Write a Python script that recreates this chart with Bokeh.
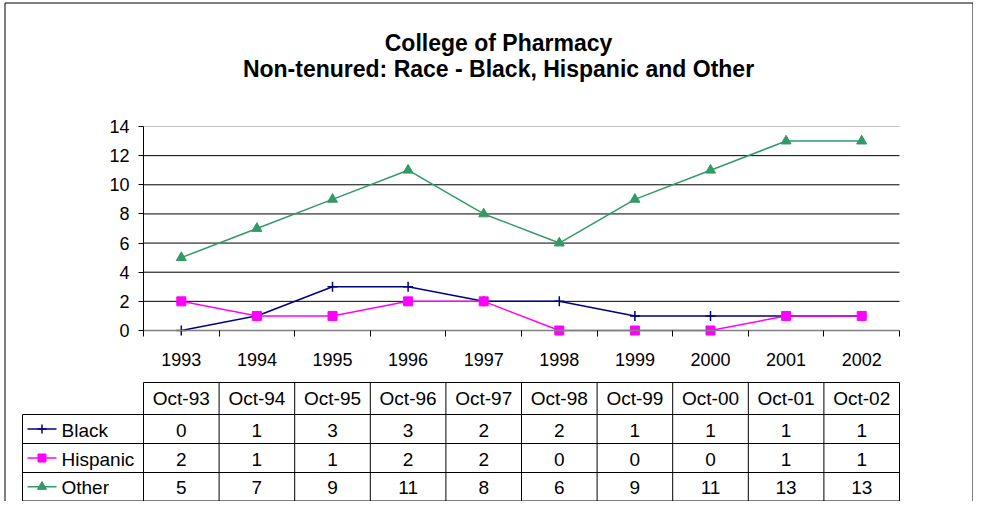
from bokeh.plotting import figure
from bokeh.models import Range1d, LinearAxis, FixedTicker
from bokeh.core.properties import value
from bokeh.embed import file_html
from bokeh.resources import INLINE

# ---------------- data ----------------
title_lines = ["College of Pharmacy", "Non-tenured: Race - Black, Hispanic and Other"]
years = ["1993", "1994", "1995", "1996", "1997", "1998", "1999", "2000", "2001", "2002"]
months = ["Oct-93", "Oct-94", "Oct-95", "Oct-96", "Oct-97", "Oct-98", "Oct-99", "Oct-00", "Oct-01", "Oct-02"]
series_names = ["Black", "Hispanic", "Other"]
black = [0, 1, 3, 3, 2, 2, 1, 1, 1, 1]
hispanic = [2, 1, 1, 2, 2, 0, 0, 0, 1, 1]
other = [5, 7, 9, 11, 8, 6, 9, 11, 13, 13]
y_ticks = [0, 2, 4, 6, 8, 10, 12, 14]

# ---------------- layout constants (pixels of the reference picture) ----------------
W, H = 973, 501
PLOT_L, PLOT_R = 143, 899    # plot area left / right
PLOT_T, PLOT_B = 126, 330    # value 14 / value 0
NCAT = len(years)
XPX = (PLOT_R - PLOT_L) / NCAT
YPX = (PLOT_B - PLOT_T) / (y_ticks[-1] - y_ticks[0])


def rx(x):
    return (x - PLOT_L) / XPX


def ry(y):
    return (PLOT_B - y) / YPX


FONT = value("Liberation Sans")
COL_BLACK = "#000080"
COL_HISP = "#FF00FF"
COL_OTHER = "#339966"

p = figure(width=W, height=H, output_backend="svg", toolbar_location=None,
           x_range=Range1d(rx(0), rx(W)), y_range=Range1d(ry(H), ry(0)),
           x_axis_type=None, y_axis_type=None, min_border=0,
           outline_line_color=None, background_fill_color="white",
           border_fill_color="white")

centers = [i + 0.5 for i in range(NCAT)]
edges = list(range(NCAT + 1))

# ---------------- title ----------------
p.text(x=[rx(498)] * 2, y=[ry(42), ry(68)], text=title_lines,
       text_font=FONT, text_font_style="bold", text_font_size="23px",
       text_align="center", text_baseline="middle", text_color="black")

# ---------------- gridlines ----------------
grid_vals = y_ticks[1:]
grid_cols = ["#c0c0c0" if v == y_ticks[-1] else "#000000" for v in grid_vals]
p.segment(x0=[0] * len(grid_vals), x1=[NCAT] * len(grid_vals), y0=grid_vals, y1=grid_vals,
          line_color=grid_cols, line_width=1)

# ---------------- axes ----------------
yaxis = LinearAxis(fixed_location=0, bounds=(y_ticks[0], y_ticks[-1]),
                   ticker=FixedTicker(ticks=y_ticks),
                   axis_line_color="#000000", axis_line_width=1,
                   major_tick_out=5, major_tick_in=0, minor_tick_out=0, minor_tick_in=0,
                   major_tick_line_color="#000000",
                   major_label_standoff=9, major_label_text_font="Liberation Sans",
                   major_label_text_font_size="18px", major_label_text_color="black")
p.add_layout(yaxis, "left")

xaxis = LinearAxis(fixed_location=0, bounds=(0, NCAT),
                   ticker=FixedTicker(ticks=centers, minor_ticks=edges),
                   major_label_overrides={c: yr for c, yr in zip(centers, years)},
                   axis_line_color="#808080", axis_line_width=1.5,
                   major_tick_out=0, major_tick_in=0,
                   minor_tick_out=6, minor_tick_in=0, minor_tick_line_color="#000000",
                   major_label_standoff=16, major_label_text_font="Liberation Sans",
                   major_label_text_font_size="18px", major_label_text_color="black")
p.add_layout(xaxis, "below")

# ---------------- series ----------------
p.line(centers, other, line_color=COL_OTHER, line_width=1.5)
p.scatter(centers, other, marker="triangle", size=10, fill_color=COL_OTHER, line_color=COL_OTHER)
p.line(centers, black, line_color=COL_BLACK, line_width=1.5)
p.scatter(centers, black, marker="cross", size=10, line_color=COL_BLACK, line_width=1.5)
p.line(centers, hispanic, line_color=COL_HISP, line_width=1.5)
p.scatter(centers, hispanic, marker="square", size=9, fill_color=COL_HISP, line_color=COL_HISP)

# ---------------- data table ----------------
row_edges = [382, 414, 443, 472, 500.5]
LEG_L = 22
hx0 = [0] + [rx(LEG_L)] * 4
hy = [ry(v) for v in row_edges]
p.segment(x0=hx0, x1=[NCAT] * 5, y0=hy, y1=hy, line_color="black", line_width=1)
vx = [rx(LEG_L)] + edges
vy0 = [ry(row_edges[1])] + [ry(row_edges[0])] * len(edges)
p.segment(x0=vx, x1=vx, y0=vy0, y1=[ry(row_edges[-1])] * len(vx), line_color="black", line_width=1)

row_mid = [(row_edges[i] + row_edges[i + 1]) / 2 + 1 for i in range(4)]
row_mid[0] -= 1.5
p.text(x=centers, y=[ry(row_mid[0])] * NCAT, text=months, text_font=FONT,
       text_font_size="19px", text_align="center", text_baseline="middle", text_color="black")
for r, vals in enumerate([black, hispanic, other]):
    p.text(x=centers, y=[ry(row_mid[r + 1])] * NCAT, text=[str(v) for v in vals], text_font=FONT,
           text_font_size="19px", text_align="center", text_baseline="middle", text_color="black")

# legend column
leg_y = [ry(m) for m in row_mid[1:]]
p.text(x=[rx(61)] * 3, y=leg_y, text=series_names, text_font=FONT, text_font_size="19px",
       text_align="left", text_baseline="middle", text_color="black")
leg_cols = [COL_BLACK, COL_HISP, COL_OTHER]
leg_key_y = [ry(m - 1) for m in row_mid[1:]]
p.segment(x0=[rx(27)] * 3, x1=[rx(56)] * 3, y0=leg_key_y, y1=leg_key_y, line_color=leg_cols, line_width=1.5)
p.scatter([rx(41.5)], [leg_key_y[0]], marker="cross", size=9, line_color=COL_BLACK, line_width=1.5)
p.scatter([rx(41.5)], [leg_key_y[1]], marker="square", size=8, fill_color=COL_HISP, line_color=COL_HISP)
p.scatter([rx(41.5)], [leg_key_y[2]], marker="triangle", size=9, fill_color=COL_OTHER, line_color=COL_OTHER)

# ---------------- outer border (left, top, right) ----------------
bx_l, bx_r = rx(4.5), rx(W - 0.5)
by_t, by_b = ry(2.5), ry(H)
p.segment(x0=[bx_l, bx_l, bx_r], x1=[bx_l, bx_r, bx_r], y0=[by_b, by_t, by_t], y1=[by_t, by_t, by_b],
          line_color="black", line_width=1)

open("out.html", "w").write(file_html(p, INLINE))
